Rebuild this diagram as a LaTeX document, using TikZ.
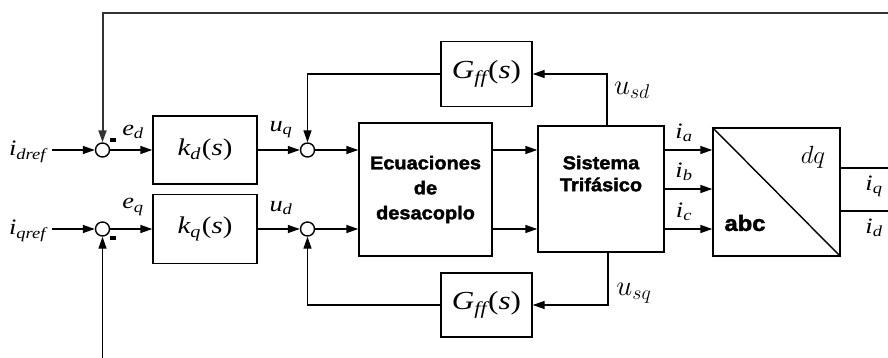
\documentclass[tikz,border=0pt]{standalone}
\usepackage{graphicx}
\usepackage{fontspec}
\setsansfont{Liberation Sans}[BoldFeatures={FakeBold=2,FakeStretch=1.08}]
\newfontfamily\tms{Liberation Serif}[FakeStretch=1.2]
\usetikzlibrary{arrows.meta}
\newcommand{\tv}[1]{{\itshape #1}}
\newcommand{\tsub}[1]{\textsubscript{\itshape #1}}
\begin{document}
\begin{tikzpicture}[x=1pt,y=-1pt,line width=1.4pt,
  every node/.style={font=\fontsize{22}{26}\selectfont\tms},
  block/.style={draw,line width=1.4pt,inner sep=0pt},
  blocktf/.style={block,font=\fontsize{24}{28}\selectfont\tms},
  sumjunc/.style={draw,circle,minimum size=14pt,inner sep=0pt,line width=1.4pt},
  arr/.style={-{Triangle[length=12pt,width=8pt]}},
  bold/.style={font=\fontsize{18.5}{25}\selectfont\sffamily\bfseries,align=center},
  minus/.style={inner sep=0pt},
  cmlbl/.style={font=\fontsize{25}{28}\selectfont}]
  \useasboundingbox (0,0) rectangle (888,358);
  % references and summing junctions
  \node [anchor=east] (idref) at (50,152) {\tv{i\tsub{dref}}};
  \node [anchor=east] (iqref) at (50,231) {\tv{i\tsub{qref}}};
  \node [sumjunc] (sumd) at (102.5,150) {};
  \node [sumjunc] (sumq) at (102.5,229) {};
  \node [minus] (mind) at (113,140) {\rule{6pt}{3.5pt}};
  \node [minus] (minq) at (113,238) {\rule{6pt}{3.5pt}};
  \draw [arr,shorten <=2pt] (idref.east |- sumd) -- (sumd.west);
  \draw [arr,shorten <=2pt] (iqref.east |- sumq) -- (sumq.west);
  % controllers
  \node [blocktf,minimum width=104pt,minimum height=68pt] (kd) at (205,150) {\tv{k\tsub{d}}\kern1pt(\tv{s})};
  \node [blocktf,minimum width=104pt,minimum height=69pt] (kq) at (205,229) {\tv{k\tsub{q}}\kern1pt(\tv{s})};
  \draw [arr] (sumd) -- (kd);
  \draw [arr] (sumq) -- (kq);
  \node (ed) at (133,132) {\tv{e\tsub{d}}};
  \node (eq) at (133,207) {\tv{e\tsub{q}}};
  \node [sumjunc] (sum2d) at (307.5,150) {};
  \node [sumjunc] (sum2q) at (307.5,229) {};
  \draw [arr] (kd) -- (sum2d);
  \draw [arr] (kq) -- (sum2q);
  \node (uq) at (281,130) {\tv{u\tsub{q}}};
  \node (ud) at (281,208) {\tv{u\tsub{d}}};
  % decoupling and plant
  \node [block,bold,minimum width=133pt,minimum height=133pt] (ecu) at (425.5,189.5) {Ecuaciones\\de\\desacoplo};
  \node [block,bold,minimum width=126pt,minimum height=126pt] (sys) at (601,189) {Sistema\\[-3pt]Trif\'asico\\[6pt]};
  \draw [arr] (sum2d) -- (ecu.west |- sum2d);
  \draw [arr] (sum2q) -- (ecu.west |- sum2q);
  \draw [arr] (ecu.east |- kd) -- (sys.west |- kd);
  \draw [arr] (ecu.east |- kq) -- (sys.west |- kq);
  % feed-forward
  \node [blocktf,font=\fontsize{26}{30}\selectfont\tms,minimum width=91pt,minimum height=65pt] (gff1) at (486.5,74) {\tv{G\tsub{ff}}\kern1pt(\tv{s})};
  \node [blocktf,font=\fontsize{26}{30}\selectfont\tms,minimum width=91pt,minimum height=64pt] (gff2) at (486.5,305) {\tv{G\tsub{ff}}\kern1pt(\tv{s})};
  \coordinate (tapd) at (607,74);
  \coordinate (tapq) at (608,305);
  \draw [arr] (sys.north -| tapd) -- (tapd) -- (gff1.east);
  \draw [arr] (sys.south -| tapq) -- (tapq) -- (gff2.east);
  \draw [arr] (gff1.west) -| (sum2d.north);
  \draw [arr] (gff2.west) -| (sum2q.south);
  \node [cmlbl] (usd) at (632,90) {\scalebox{1.15}{$u_{sd}$}};
  \node [cmlbl] (usq) at (634,293) {\scalebox{1.15}{$u_{sq}$}};
  % abc/dq transformation
  \node [block,minimum width=127pt,minimum height=128pt] (abc) at (776.5,192) {};
  \draw (abc.north west) -- (abc.south east);
  \draw [arr] (sys.east |- kd) -- (abc.west |- kd);
  \draw [arr] (sys.east) -- (abc.west |- sys);
  \draw [arr] (sys.east |- kq) -- (abc.west |- kq);
  \node (ia) at (684,133) {\tv{i\tsub{a}}};
  \node (ib) at (684,172) {\tv{i\tsub{b}}};
  \node (ic) at (684,212) {\tv{i\tsub{c}}};
  \node [cmlbl] (dq) at (813,157) {$dq$};
  \node [font=\fontsize{22}{24}\selectfont\sffamily\bfseries] (abclbl) at (745,223) {abc};
  \coordinate (oq) at (888,168);
  \coordinate (od) at (888,211);
  \draw (abc.east |- oq) -- (oq);
  \draw (abc.east |- od) -- (od);
  \node (iq) at (874,186) {\tv{i\tsub{q}}};
  \node (id) at (874,228) {\tv{i\tsub{d}}};
  % current feedback
  \coordinate (fbd) at (888,13);
  \coordinate (fbq) at (104,358);
  \draw [arr,line width=2pt,black!80] (fbd) -| (sumd.north);
  \draw [arr] (sumq.south |- fbq) -- (sumq.south);
\end{tikzpicture}
\end{document}
